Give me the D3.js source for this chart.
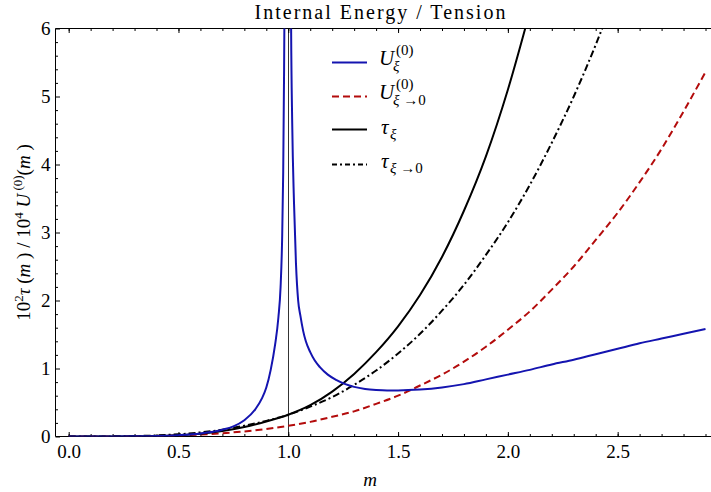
<!DOCTYPE html>
<html><head><meta charset="utf-8">
<script src="https://cdn.jsdelivr.net/npm/d3@7"></script>
<style>body{margin:0;background:#fff}svg{display:block}</style>
</head><body>
<svg id="c" width="711" height="492"></svg>
<script>
// ---- data ----
const mGrid = [0,0.1,0.2,0.3,0.4,0.5,0.6,0.7,0.8,0.9,1.0,1.1,1.2,1.3,1.4,1.5,1.6,1.7,1.8,1.9,2.0,2.1,2.2,2.3,2.4,2.5,2.6,2.7,2.8,2.9];
const tauXi   = [0,0,0.001,0.003,0.008,0.02,0.04,0.08,0.14,0.22,0.32,0.46,0.66,0.92,1.24,1.62,2.08,2.64,3.32,4.12,5.1,6.25];
const tauXi0  = [0,0,0.002,0.006,0.016,0.033,0.06,0.10,0.16,0.23,0.32,0.44,0.58,0.76,0.97,1.22,1.51,1.85,2.23,2.67,3.15,3.70,4.32,5.0,5.76,6.6];
const uXi0    = [0,0,0.001,0.003,0.008,0.016,0.029,0.048,0.075,0.11,0.157,0.215,0.29,0.37,0.48,0.60,0.75,0.91,1.10,1.32,1.57,1.84,2.16,2.50,2.89,3.29,3.74,4.23,4.78,5.36];
const uXiLeftM  = [0,0.1,0.2,0.3,0.4,0.5,0.6,0.7,0.75,0.8,0.85,0.88,0.9,0.92,0.94,0.955,0.965,0.972,0.977,0.981,0.985];
const uXiLeftV  = [0,0,0.001,0.003,0.008,0.02,0.045,0.10,0.15,0.24,0.40,0.56,0.72,0.98,1.35,1.75,2.2,2.9,3.9,5.4,7.5];
const uXiRightM = [1.010,1.013,1.018,1.026,1.035,1.045,1.055,1.068,1.08,1.10,1.12,1.144,1.18,1.22,1.26,1.3,1.35,1.4,1.45,1.5,1.6,1.7,1.8,1.9,2.0,2.1,2.2,2.3,2.4,2.5,2.6,2.7,2.8,2.9];
const uXiRightV = [8,6.0,4.6,3.45,2.55,2.0,1.78,1.55,1.40,1.24,1.12,1.02,0.91,0.83,0.77,0.73,0.70,0.685,0.678,0.678,0.69,0.72,0.77,0.84,0.91,0.98,1.06,1.13,1.21,1.29,1.37,1.44,1.51,1.58];
const xTicks = [0,0.5,1.0,1.5,2.0,2.5];
const xTickLabels = ["0.0","0.5","1.0","1.5","2.0","2.5"];
const yTicks = [0,1,2,3,4,5,6];
const yTickLabels = ["0","1","2","3","4","5","6"];
const xMinor = [0,0.1,0.2,0.3,0.4,0.5,0.6,0.7,0.8,0.9,1.0,1.1,1.2,1.3,1.4,1.5,1.6,1.7,1.8,1.9,2.0,2.1,2.2,2.3,2.4,2.5,2.6,2.7,2.8,2.9];
const yMinor = [0.2,0.4,0.6,0.8,1.2,1.4,1.6,1.8,2.2,2.4,2.6,2.8,3.2,3.4,3.6,3.8,4.2,4.4,4.6,4.8,5.2,5.4,5.6,5.8];
const singularM = 1.0;

// ---- layout ----
const W = 711, H = 492;
const L = 55.5, R = 711, T = 28.5, B = 436.5;
const FONT = "'Liberation Serif','Times New Roman',serif";
const BLUE = "#1414b0", RED = "#b30c0c";

const svg = d3.select("#c");
const x = d3.scaleLinear().domain([-0.06, 2.9]).range([L, 705.5]);
const y = d3.scaleLinear().domain([0, 6]).range([B, T]);

svg.append("defs").append("clipPath").attr("id","clip")
  .append("rect").attr("x", L).attr("y", T).attr("width", R - L).attr("height", B - T);

function style(g){
  g.select(".domain").remove();
  g.selectAll(".tick line").attr("stroke","#000").attr("stroke-width",1);
  g.selectAll("text").attr("font-family", FONT).attr("font-size", 19).attr("fill","#000");
}
svg.append("g").attr("transform",`translate(0,${B})`)
  .call(d3.axisBottom(x).tickValues(xMinor).tickFormat("").tickSizeInner(-2.5).tickSizeOuter(0)).call(style);
svg.append("g").attr("transform",`translate(0,${B})`)
  .call(d3.axisBottom(x).tickValues(xTicks).tickFormat((d,i)=>xTickLabels[i]).tickSizeInner(-4.5).tickSizeOuter(0).tickPadding(8)).call(style);
svg.append("g").attr("transform",`translate(0,${T})`)
  .call(d3.axisTop(x).tickValues(xMinor).tickFormat("").tickSizeInner(-2.5).tickSizeOuter(0)).call(style);
svg.append("g").attr("transform",`translate(0,${T})`)
  .call(d3.axisTop(x).tickValues(xTicks).tickFormat("").tickSizeInner(-4.5).tickSizeOuter(0)).call(style);
svg.append("g").attr("transform",`translate(${L},0)`)
  .call(d3.axisLeft(y).tickValues(yMinor).tickFormat("").tickSizeInner(-2.5).tickSizeOuter(0)).call(style);
svg.append("g").attr("transform",`translate(${L},0)`)
  .call(d3.axisLeft(y).tickValues(yTicks).tickFormat((d,i)=>yTickLabels[i]).tickSizeInner(-4.5).tickSizeOuter(0).tickPadding(5)).call(style);

const frame = svg.append("g").attr("stroke","#000").attr("stroke-width",1);
frame.append("line").attr("x1",L).attr("x2",R).attr("y1",T).attr("y2",T);
frame.append("line").attr("x1",L).attr("x2",R).attr("y1",B).attr("y2",B);
frame.append("line").attr("x1",L).attr("x2",L).attr("y1",T).attr("y2",B);

svg.append("line").attr("x1",Math.round(x(singularM))+0.5).attr("x2",Math.round(x(singularM))+0.5)
  .attr("y1",T).attr("y2",B).attr("stroke","#000").attr("stroke-width",0.8);

const plot = svg.append("g").attr("clip-path","url(#clip)");
const line = d3.line().x(d=>x(d[0])).y(d=>y(d[1])).curve(d3.curveMonotoneX);
const zipG = vals => vals.map((v,i)=>[mGrid[i], v]);
const zip = (ms, vs) => ms.map((m,i)=>[m, vs[i]]);

plot.append("path").attr("d", line(zipG(uXi0))).attr("fill","none").attr("stroke",RED)
  .attr("stroke-width",2).attr("stroke-dasharray","7,4");
plot.append("path").attr("d", line(zipG(tauXi0))).attr("fill","none").attr("stroke","#000")
  .attr("stroke-width",2).attr("stroke-dasharray","7,3,2,3");
plot.append("path").attr("d", line(zipG(tauXi))).attr("fill","none").attr("stroke","#000")
  .attr("stroke-width",2);
plot.append("path").attr("d", line(zip(uXiLeftM, uXiLeftV))).attr("fill","none").attr("stroke",BLUE)
  .attr("stroke-width",2);
plot.append("path").attr("d", line(zip(uXiRightM, uXiRightV))).attr("fill","none").attr("stroke",BLUE)
  .attr("stroke-width",2);

// title
svg.append("text").attr("x",381).attr("y",19).attr("text-anchor","middle")
  .attr("font-family",FONT).attr("font-size",20).attr("letter-spacing",2).text("Internal Energy / Tension");

// x label
svg.append("text").attr("x",370).attr("y",486).attr("text-anchor","middle")
  .attr("font-family",FONT).attr("font-size",19).attr("font-style","italic").text("m");

// y label
const yl = svg.append("text").attr("transform","translate(30,232.5) rotate(-90)")
  .attr("text-anchor","middle").attr("font-family",FONT).attr("font-size",19);
yl.append("tspan").text("10");
yl.append("tspan").attr("font-size",13).attr("dy",-7).text("2");
yl.append("tspan").attr("dy",7).attr("font-style","italic").text("τ");
yl.append("tspan").text(" (");
yl.append("tspan").attr("font-style","italic").text("m");
yl.append("tspan").text(" )  /  10");
yl.append("tspan").attr("font-size",13).attr("dy",-7).text("4");
yl.append("tspan").attr("dy",7).text(" ");
yl.append("tspan").attr("font-style","italic").text("U");
yl.append("tspan").attr("font-size",13).attr("dy",-8).text(" (0)");
yl.append("tspan").attr("dy",8).text("(");
yl.append("tspan").attr("font-style","italic").text("m");
yl.append("tspan").text(" )");

// legend
const legend = [
  {ly:62.5, color:BLUE, dash:null, sym:"U", sup:"(0)", sub:"ξ", base:65},
  {ly:96.5, color:RED, dash:"7,4", sym:"U", sup:"(0)", sub:"ξ →0", base:99},
  {ly:129.5, color:"#000", dash:null, sym:"τ", sup:null, sub:"ξ", base:134},
  {ly:164.5, color:"#000", dash:"5,3,2,3", sym:"τ", sup:null, sub:"ξ →0", base:168}
];
const lg = svg.append("g");
legend.forEach(e=>{
  lg.append("line").attr("x1",332).attr("x2",367).attr("y1",e.ly).attr("y2",e.ly)
    .attr("stroke",e.color).attr("stroke-width",2).attr("stroke-dasharray",e.dash);
  lg.append("text").attr("x", e.sym==="U"?379:381).attr("y",e.base).attr("font-family",FONT)
    .attr("font-size",21).attr("font-style","italic").text(e.sym);
  if(e.sup) lg.append("text").attr("x",396).attr("y",e.base-10.5).attr("font-family",FONT)
    .attr("font-size",15).text(e.sup);
  const parts = e.sub.split(" ");
  const t = lg.append("text").attr("x", e.sym==="U"?393:390).attr("y",e.base+(e.sym==="U"?6:5)).attr("font-family",FONT)
    .attr("font-size",15);
  t.append("tspan").attr("font-style","italic").text(parts[0]);
  if(parts[1]) t.append("tspan").text(" "+parts[1]);
});
</script>
</body></html>
